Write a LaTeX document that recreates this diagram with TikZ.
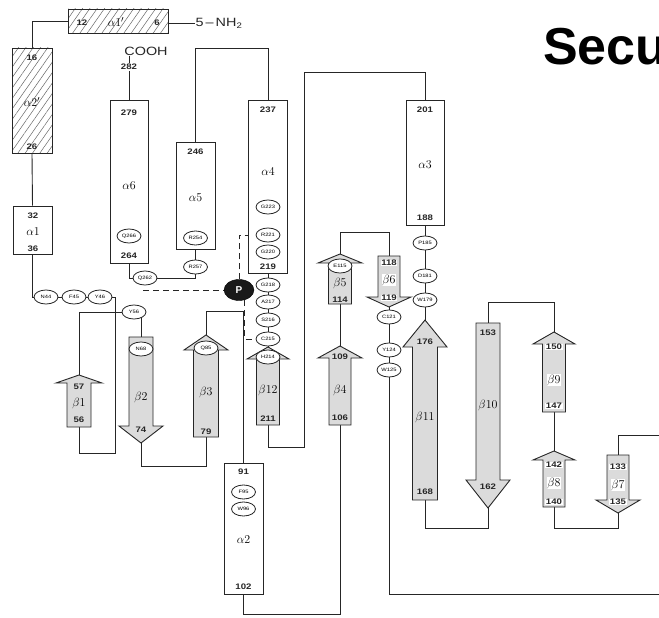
\documentclass[tikz,border=0pt]{standalone}
\usepackage{fontspec}
\newfontfamily\numfont[FakeStretch=1.2]{Liberation Sans}
\newfontfamily\titlefont{Liberation Sans}
\usetikzlibrary{patterns.meta,backgrounds,shapes.geometric}
\tikzset{
 conn/.style={line width=0.9pt, draw=black!85},
 dashconn/.style={line width=0.9pt, draw=black!85, dash pattern=on 6pt off 4pt},
 helix/.style={rectangle, draw=black!85, line width=0.9pt, fill=white, inner sep=0pt},
 hatchhelix/.style={rectangle, draw=black!85, line width=0.9pt, inner sep=0pt, preaction={fill=white}, pattern={Lines[angle=55,distance=6pt,line width=0.5pt]}, pattern color=black!60},
 res/.style={ellipse, draw=black!85, line width=0.8pt, fill=white, minimum width=24pt, minimum height=14pt, inner sep=0pt, font=\numfont\fontsize{4.8}{5}\selectfont},
 num/.style={inner sep=0.5pt, font=\numfont\bfseries\fontsize{8}{9}\selectfont, text=black!85},
 bignum/.style={inner sep=0.5pt, font=\numfont\fontsize{12}{13}\selectfont, text=black!85},
 wnum/.style={num, fill=white},
 glab/.style={inner sep=0.5pt, font=\fontsize{13}{14}\selectfont},
 wglab/.style={glab, fill=white},
 strandbody/.style={draw=black!85, line width=0.9pt, fill=gray!28},
 phos/.style={ellipse, fill=black!90, draw=black, minimum width=30pt, minimum height=21pt, inner sep=0pt, text=white, font=\titlefont\bfseries\fontsize{10}{10}\selectfont},
}
% name, x1, y1, x2, y2, style
\newcommand\helixbox[6]{\node[#6, minimum width={#4-#2}, minimum height={#5-#3}] (#1) at ({(#2+#4)/2},{(#3+#5)/2}) {};}
% name, cx, tip, headbase, bottom, halfbody, halfhead
\newcommand\upstrand[7]{%
 \draw[strandbody] ({#2-#6},#5) -- ({#2-#6},#4) -- ({#2-#7},#4) -- (#2,#3) -- ({#2+#7},#4) -- ({#2+#6},#4) -- ({#2+#6},#5) -- cycle;
 \coordinate (#1t) at (#2,#3); \coordinate (#1b) at (#2,#5);}
% name, cx, top, headbase, tip, halfbody, halfhead
\newcommand\downstrand[7]{%
 \draw[strandbody] ({#2-#6},#3) -- ({#2-#6},#4) -- ({#2-#7},#4) -- (#2,#5) -- ({#2+#7},#4) -- ({#2+#6},#4) -- ({#2+#6},#3) -- cycle;
 \coordinate (#1t) at (#2,#3); \coordinate (#1b) at (#2,#5);}
\begin{document}
\begin{tikzpicture}[x=1pt,y=-1pt]
\useasboundingbox (0,0) rectangle (659,618);
\clip (0,0) rectangle (659,618);

% title fragment
\node[anchor=base west, inner sep=0pt, font=\titlefont\bfseries\fontsize{52}{52}\selectfont] (title) at (543,65) {Secu};

% ---------- helices ----------
\helixbox{a1p}{68}{9}{168}{33}{hatchhelix}
\helixbox{a2p}{12}{48}{52}{153}{hatchhelix}
\helixbox{a1}{13}{206}{52}{254}{helix}
\helixbox{a6}{110}{100}{148}{263}{helix}
\helixbox{a5}{176}{142}{215}{249}{helix}
\helixbox{a4}{248.5}{100}{287.5}{273}{helix}
\helixbox{a3}{406}{100}{444}{225}{helix}
\helixbox{a2}{224}{463}{263}{594}{helix}

% ---------- strands ----------
\upstrand{b1}{79}{375}{383}{427}{12}{23}
\downstrand{b2}{141}{337}{426}{443}{12}{22}
\upstrand{b3}{206}{335}{350}{437}{12.5}{22}
\upstrand{b12}{268}{347}{359}{425}{11.5}{21}
\upstrand{b4}{340}{346}{358}{425}{11}{22}
\upstrand{b5}{340}{254}{263}{304}{11.5}{22}
\downstrand{b6}{389}{256}{297}{307}{11}{22}
\upstrand{b11}{425}{320}{347}{500}{12.5}{22}
\downstrand{b10}{488}{323}{480}{508}{12}{22}
\upstrand{b9}{554}{332}{344}{412}{11.5}{21}
\upstrand{b8}{554}{451}{460}{507}{11}{21}
\downstrand{b7}{618}{455}{500}{513}{11}{22}

% ---------- residues ----------
\node[res] (n44) at (46,297) {N44};
\node[res] (f45) at (74,297) {F45};
\node[res] (y46) at (100,297) {Y46};
\node[res] (y56) at (134,312) {Y56};
\node[res] (n68) at (141,349) {N68};
\node[res] (q85) at (206,348) {Q85};
\node[res] (f95) at (243.5,492) {F95};
\node[res] (w96) at (243.5,509) {W96};
\node[res] (e115) at (340,266) {E115};
\node[res] (c121) at (389,317) {C121};
\node[res] (y124) at (389,350) {Y124};
\node[res] (w125) at (389,370) {W125};
\node[res] (w179) at (425,300) {W179};
\node[res] (d181) at (425,276) {D181};
\node[res] (p185) at (425,243) {P185};
\node[res] (h214) at (268,357) {H214};
\node[res] (c215) at (268,339) {C215};
\node[res] (s216) at (268,320) {S216};
\node[res] (a217) at (268,302) {A217};
\node[res] (g218) at (268,285) {G218};
\node[res] (g220) at (268,252) {G220};
\node[res] (r221) at (268,235) {R221};
\node[res] (g223) at (268,207) {G223};
\node[res] (r254) at (195.5,238) {R254};
\node[res] (r257) at (195.5,267) {R257};
\node[res] (q262) at (145,278) {Q262};
\node[res] (q266) at (129,236) {Q266};
\node[phos] (P) at (239,290) {P};

% ---------- labels ----------
\node[bignum] (cooh) at (146,51) {COOH};
\node[num] (t282) at (129,67) {282};
\node[bignum, anchor=west] (nh) at (195,23) {5\,–\,NH\textsubscript{2}};
\node[num] (l12) at (82,23) {12};
\node[glab] (la1p) at (116,22) {$\alpha1'$};
\node[num] (l6) at (157,23) {6};
\node[num] (l16) at (32,58) {16};
\node[glab] (la2p) at (32,102) {$\alpha2'$};
\node[num] (l26) at (32,147) {26};
\node[num] (l32) at (33,216) {32};
\node[glab] (la1) at (33,232) {$\alpha1$};
\node[num] (l36) at (33,249) {36};
\node[num] (l279) at (129,113) {279};
\node[glab] (la6) at (129,186) {$\alpha6$};
\node[num] (l264) at (129,256) {264};
\node[num] (l246) at (195.5,152) {246};
\node[glab] (la5) at (195.5,198) {$\alpha5$};
\node[num] (l237) at (268,110) {237};
\node[glab] (la4) at (268,172) {$\alpha4$};
\node[num] (l219) at (268,267) {219};
\node[num] (l201) at (425,110) {201};
\node[glab] (la3) at (425,165) {$\alpha3$};
\node[num] (l188) at (425,218) {188};
\node[num] (l91) at (243.5,472) {91};
\node[glab] (la2) at (243.5,540) {$\alpha2$};
\node[num] (l102) at (243.5,587) {102};

\node[num] (l57) at (79,387) {57};
\node[glab] (lb1) at (79,403) {$\beta1$};
\node[num] (l56) at (79,420) {56};
\node[glab] (lb2) at (141,397) {$\beta2$};
\node[num] (l74) at (141,430) {74};
\node[glab] (lb3) at (206,392) {$\beta3$};
\node[num] (l79) at (206,432) {79};
\node[glab] (lb12) at (268,390) {$\beta12$};
\node[num] (l211) at (268,419) {211};
\node[num] (l109) at (340,357) {109};
\node[glab] (lb4) at (340,390) {$\beta4$};
\node[num] (l106) at (340,418) {106};
\node[glab] (lb5) at (340,283) {$\beta5$};
\node[num] (l114) at (340,300) {114};
\node[wnum] (l118) at (389,263) {118};
\node[wglab] (lb6) at (389,280) {$\beta6$};
\node[wnum] (l119) at (389,298) {119};
\node[num] (l176) at (425,342) {176};
\node[glab] (lb11) at (425,417) {$\beta11$};
\node[num] (l168) at (425,492) {168};
\node[num] (l153) at (488,333) {153};
\node[glab] (lb10) at (488,405) {$\beta10$};
\node[num] (l162) at (488,487) {162};
\node[wnum] (l150) at (554,347) {150};
\node[wglab] (lb9) at (554,380) {$\beta9$};
\node[wnum] (l147) at (554,406) {147};
\node[wnum] (l142) at (554,465) {142};
\node[wglab] (lb8) at (554,483) {$\beta8$};
\node[wnum] (l140) at (554,502) {140};
\node[wnum] (l133) at (618,467) {133};
\node[wglab] (lb7) at (618,485) {$\beta7$};
\node[wnum] (l135) at (618,502) {135};

% ---------- connectors ----------
\begin{pgfonlayer}{background}
\fill[white] (0,0) rectangle (659,618);
\coordinate (nhend) at (nh.west);
\draw[conn] (a1p.east |- nhend) -- (nhend);
\draw[conn] (a1p.west) -| (a2p.north);
\draw[conn] (a2p.south) -- (a1.north);
\draw[conn] (a1.south) |- (n44.west);
\draw[conn] (n44) -- (f45) -- (y46);
\coordinate (k1) at (115,453);
\draw[conn] (y46.east) -| (k1) -| (b1b);
\draw[conn] (b1t) |- (y56.west);
\draw[conn] (b2t) -- (b2t |- y56.center);
\coordinate (k2) at (141,466);
\draw[conn] (b2b) -- (k2) -| (b3b);
\coordinate (k3) at (243.5,311);
\draw[conn] (b3t) |- (k3) -- (a2.north);
\coordinate (k4) at (243.5,614);
\draw[conn] (a2.south) -- (k4) -| (b4b);
\draw[conn] (b4t) -- (b5b);
\coordinate (k5) at (340,232);
\draw[conn] (b5t) -- (k5) -| (b6t);
\draw[conn] (b6b) -- (c121) -- (y124) -- (w125);
\coordinate (k6) at (389,594);
\coordinate (k7) at (659,594);
\draw[conn] (w125) -- (k6) -- (k7);
\draw[conn] (a3.south) -- (p185) -- (d181) -- (w179) -- (b11t);
\coordinate (k8) at (425,528);
\draw[conn] (b11b) -- (k8) -| (b10b);
\coordinate (k9) at (488,302);
\draw[conn] (b10t) -- (k9) -| (b9t);
\draw[conn] (b9b) -- (b8t);
\coordinate (k10) at (554,528);
\draw[conn] (b8b) -- (k10) -| (b7b);
\coordinate (k11) at (618,435);
\coordinate (k12) at (659,435);
\draw[conn] (b7t) -- (k11) -- (k12);
\coordinate (k13) at (425,72);
\coordinate (k14) at (304,72);
\coordinate (k15) at (304,447);
\draw[conn] (a3.north) -- (k13) -- (k14) -- (k15) -| (b12b);
\draw[conn] (a4.south) -- (b12t);
\coordinate (k16) at (268,48);
\draw[conn] (a4.north) -- (k16) -| (a5.north);
\draw[conn] (a5.south) -- (r257);
\draw[conn] (r257.south) |- (q262.east);
\draw[conn] (a6.south) |- (q262.west);
\draw[conn] (a6.north) -- (t282.south);
\draw[conn] (t282.north) -- (t282.north |- cooh.south);
\coordinate (k17) at (143,290);
\draw[dashconn] (k17) -- (P.west);
\draw[dashconn] (P.north) |- (r221.west);
\draw[dashconn] (P.300) |- (c215.west);
\end{pgfonlayer}
\end{tikzpicture}
\end{document}
